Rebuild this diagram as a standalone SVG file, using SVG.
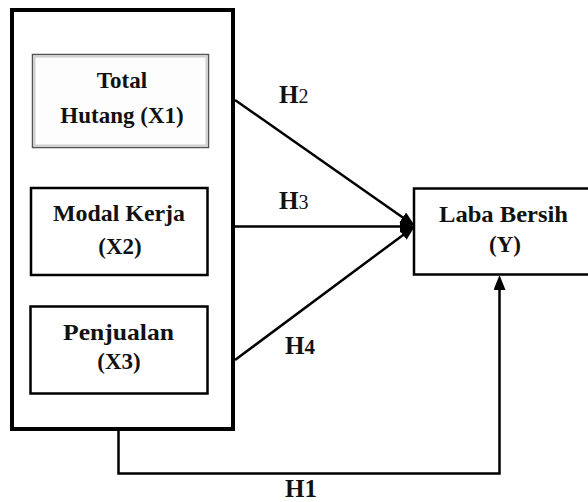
<svg xmlns="http://www.w3.org/2000/svg" width="588" height="502" viewBox="0 0 588 502">
<style>
.box{fill:#fff;stroke:#000;stroke-width:2.5}
.outer{fill:none;stroke:#000;stroke-width:4}
.t{font-family:"Liberation Serif","Times New Roman",serif;font-weight:bold;font-size:23px;fill:#111;text-anchor:middle}
.h{font-family:"Liberation Serif","Times New Roman",serif;font-weight:bold;font-size:25px;fill:#111}
.sub{font-size:20px;font-weight:normal}
.subb{font-size:21px}
.c{fill:none;stroke:#000;stroke-width:2.5}
</style>
<defs>
<marker id="ah" markerUnits="userSpaceOnUse" markerWidth="16" markerHeight="12" refX="1" refY="6" orient="auto">
<path d="M0,0 L15,6 L0,12 z" fill="#000"/>
</marker>
</defs>
<rect width="588" height="502" fill="#fff"/>
<g id="group-x">
<rect class="outer" x="12" y="10" width="221" height="419"/>
</g>
<g id="x1">
<rect x="32.5" y="54.5" width="176" height="93" fill="#fdfdfd" stroke="#555" stroke-width="1.5"/>
<rect x="34.5" y="56.5" width="172" height="89" fill="none" stroke="#cfcfcf" stroke-width="2"/>
<text class="t" x="122" y="88">Total</text>
<text class="t" x="122" y="123">Hutang (X1)</text>
</g>
<g id="x2">
<rect class="box" x="31" y="188" width="176.5" height="87"/>
<text class="t" x="119" y="221" textLength="132" lengthAdjust="spacingAndGlyphs">Modal Kerja</text>
<text class="t" x="120" y="254">(X2)</text>
</g>
<g id="x3">
<rect class="box" x="30.5" y="306.5" width="177" height="87"/>
<text class="t" x="118.5" y="340" textLength="111" lengthAdjust="spacingAndGlyphs">Penjualan</text>
<text class="t" x="119" y="369">(X3)</text>
</g>
<g id="y">
<rect class="box" x="414" y="188.5" width="176" height="86"/>
<text class="t" x="503.5" y="222" textLength="129" lengthAdjust="spacingAndGlyphs">Laba Bersih</text>
<text class="t" x="505" y="252">(Y)</text>
</g>
<g id="connectors">
<line class="c" x1="235" y1="100" x2="403.5" y2="218" marker-end="url(#ah)"/>
<line class="c" x1="235" y1="226.5" x2="401" y2="226.5" marker-end="url(#ah)"/>
<line class="c" x1="235" y1="360" x2="403.8" y2="234.4" marker-end="url(#ah)"/>
<path class="c" d="M118.5,430 V473.5 H499.5 V289" marker-end="url(#ah)"/>
</g>
<g id="labels">
<text class="h" x="279" y="103">H<tspan class="sub">2</tspan></text>
<text class="h" x="279" y="209">H<tspan class="sub">3</tspan></text>
<text class="h" x="285" y="354">H<tspan class="subb">4</tspan></text>
<text class="h" x="285" y="497">H<tspan>1</tspan></text>
</g>
</svg>
